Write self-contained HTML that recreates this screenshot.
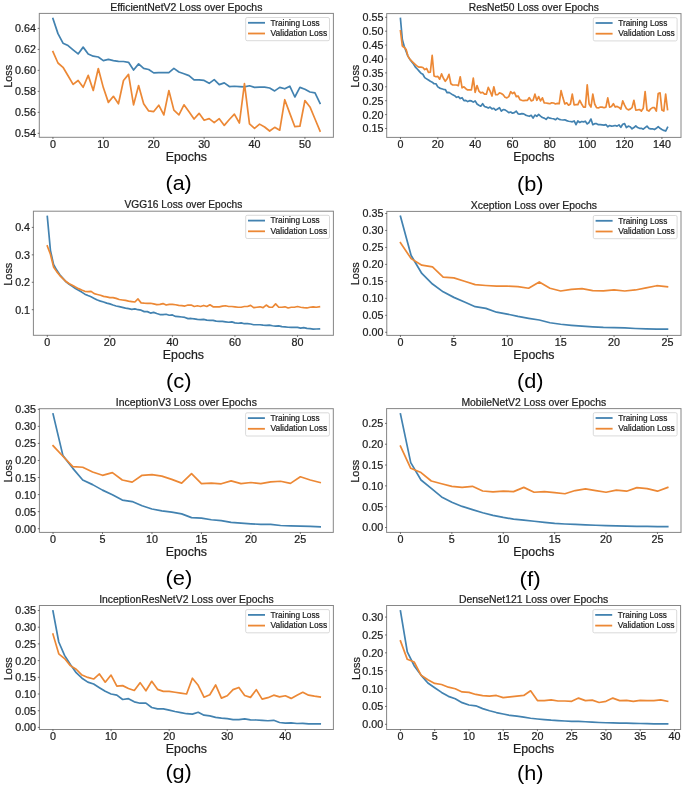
<!DOCTYPE html>
<html><head><meta charset="utf-8"><style>
html,body{margin:0;padding:0;background:#fff;}
svg{display:block;font-family:"Liberation Sans", sans-serif;will-change:transform;}
text{stroke:#1e1e1e;stroke-width:0.22px;}
</style></head><body>
<svg width="685" height="788" viewBox="0 0 685 788">
<rect width="685" height="788" fill="#fff"/>
<polyline points="52.93,18.56 57.97,33.63 63.01,43.16 68.05,45.54 73.09,49.83 78.13,53.95 83.17,47.13 88.21,53.95 93.25,56.17 98.29,56.97 103.33,60.62 108.37,59.35 113.41,60.62 118.45,61.41 123.49,61.50 128.53,62.30 133.57,70.01 138.61,63.91 143.65,68.40 148.69,69.53 153.73,72.90 158.77,72.58 163.81,72.58 168.85,72.58 173.89,68.40 178.93,71.94 183.97,73.70 189.01,75.63 194.05,79.97 199.09,79.81 204.13,80.45 209.17,83.34 214.21,79.65 219.25,84.62 224.29,82.86 229.33,86.55 234.37,86.23 239.41,86.55 244.45,86.87 249.49,85.75 254.53,87.35 259.57,87.19 264.61,87.19 269.65,88.00 274.69,90.89 279.73,87.35 284.77,88.80 289.81,86.23 294.85,96.99 299.89,87.35 304.93,89.28 309.97,92.01 315.01,92.81 320.05,103.25" fill="none" stroke="#4282b0" stroke-width="1.7" stroke-linejoin="round" stroke-linecap="square"/>
<polyline points="52.93,51.57 57.97,63.00 63.01,67.29 68.05,75.70 73.09,84.43 78.13,80.46 83.17,87.29 88.21,75.38 93.25,90.46 98.29,68.56 103.33,87.60 108.37,102.37 113.41,96.33 118.45,103.79 123.49,80.45 128.53,74.35 133.57,104.86 138.61,85.59 143.65,103.73 148.69,110.96 153.73,111.60 158.77,105.18 163.81,114.98 168.85,90.57 173.89,110.16 178.93,114.81 183.97,104.86 189.01,111.76 194.05,118.99 199.09,113.37 204.13,120.27 209.17,118.67 214.21,122.68 219.25,118.67 224.29,125.41 229.33,119.47 234.37,114.17 239.41,123.00 244.45,83.66 249.49,123.81 254.53,128.30 259.57,124.13 264.61,127.02 269.65,131.03 274.69,127.34 279.73,130.23 284.77,99.72 289.81,113.37 294.85,126.70 299.89,126.22 304.93,100.52 309.97,106.95 315.01,118.99 320.05,131.03" fill="none" stroke="#ec8835" stroke-width="1.7" stroke-linejoin="round" stroke-linecap="square"/>
<rect x="39.30" y="13.40" width="294.10" height="123.90" fill="none" stroke="#868686" stroke-width="1"/>
<line x1="52.93" y1="137.30" x2="52.93" y2="138.90" stroke="#333" stroke-width="0.7"/>
<text x="52.93" y="147.55" font-size="10.0" text-anchor="middle" fill="#1e1e1e" textLength="5.98" lengthAdjust="spacingAndGlyphs">0</text>
<line x1="103.33" y1="137.30" x2="103.33" y2="138.90" stroke="#333" stroke-width="0.7"/>
<text x="103.33" y="147.55" font-size="10.0" text-anchor="middle" fill="#1e1e1e" textLength="11.96" lengthAdjust="spacingAndGlyphs">10</text>
<line x1="153.73" y1="137.30" x2="153.73" y2="138.90" stroke="#333" stroke-width="0.7"/>
<text x="153.73" y="147.55" font-size="10.0" text-anchor="middle" fill="#1e1e1e" textLength="11.96" lengthAdjust="spacingAndGlyphs">20</text>
<line x1="204.13" y1="137.30" x2="204.13" y2="138.90" stroke="#333" stroke-width="0.7"/>
<text x="204.13" y="147.55" font-size="10.0" text-anchor="middle" fill="#1e1e1e" textLength="11.96" lengthAdjust="spacingAndGlyphs">30</text>
<line x1="254.53" y1="137.30" x2="254.53" y2="138.90" stroke="#333" stroke-width="0.7"/>
<text x="254.53" y="147.55" font-size="10.0" text-anchor="middle" fill="#1e1e1e" textLength="11.96" lengthAdjust="spacingAndGlyphs">40</text>
<line x1="304.93" y1="137.30" x2="304.93" y2="138.90" stroke="#333" stroke-width="0.7"/>
<text x="304.93" y="147.55" font-size="10.0" text-anchor="middle" fill="#1e1e1e" textLength="11.96" lengthAdjust="spacingAndGlyphs">50</text>
<line x1="37.70" y1="133.30" x2="39.30" y2="133.30" stroke="#333" stroke-width="0.7"/>
<text x="36.00" y="137.28" font-size="10.0" text-anchor="end" fill="#1e1e1e" textLength="20.93" lengthAdjust="spacingAndGlyphs">0.54</text>
<line x1="37.70" y1="112.32" x2="39.30" y2="112.32" stroke="#333" stroke-width="0.7"/>
<text x="36.00" y="116.30" font-size="10.0" text-anchor="end" fill="#1e1e1e" textLength="20.93" lengthAdjust="spacingAndGlyphs">0.56</text>
<line x1="37.70" y1="91.34" x2="39.30" y2="91.34" stroke="#333" stroke-width="0.7"/>
<text x="36.00" y="95.32" font-size="10.0" text-anchor="end" fill="#1e1e1e" textLength="20.93" lengthAdjust="spacingAndGlyphs">0.58</text>
<line x1="37.70" y1="70.36" x2="39.30" y2="70.36" stroke="#333" stroke-width="0.7"/>
<text x="36.00" y="74.34" font-size="10.0" text-anchor="end" fill="#1e1e1e" textLength="20.93" lengthAdjust="spacingAndGlyphs">0.60</text>
<line x1="37.70" y1="49.38" x2="39.30" y2="49.38" stroke="#333" stroke-width="0.7"/>
<text x="36.00" y="53.36" font-size="10.0" text-anchor="end" fill="#1e1e1e" textLength="20.93" lengthAdjust="spacingAndGlyphs">0.62</text>
<line x1="37.70" y1="28.40" x2="39.30" y2="28.40" stroke="#333" stroke-width="0.7"/>
<text x="36.00" y="32.38" font-size="10.0" text-anchor="end" fill="#1e1e1e" textLength="20.93" lengthAdjust="spacingAndGlyphs">0.64</text>
<text x="186.35" y="10.50" font-size="10.0" text-anchor="middle" fill="#1e1e1e" textLength="152.17" lengthAdjust="spacingAndGlyphs">EfficientNetV2 Loss over Epochs</text>
<text x="186.35" y="160.80" font-size="12.2" text-anchor="middle" fill="#1e1e1e" textLength="41.20" lengthAdjust="spacingAndGlyphs">Epochs</text>
<text x="0" y="0" fill="#1e1e1e" font-size="11.0" text-anchor="middle" transform="translate(11.70,76.30) rotate(-90)" textLength="23.03" lengthAdjust="spacingAndGlyphs">Loss</text>
<rect x="245.70" y="17.50" width="83.80" height="23.20" rx="1.5" fill="#fff" fill-opacity="0.8" stroke="#d0d0d0" stroke-width="0.8"/>
<line x1="248.00" y1="22.80" x2="265.00" y2="22.80" stroke="#4282b0" stroke-width="1.8"/>
<text x="270.60" y="25.60" font-size="8.4" text-anchor="start" fill="#1e1e1e" textLength="49.07" lengthAdjust="spacingAndGlyphs">Training Loss</text>
<line x1="248.00" y1="33.50" x2="265.00" y2="33.50" stroke="#ec8835" stroke-width="1.8"/>
<text x="270.60" y="36.10" font-size="8.4" text-anchor="start" fill="#1e1e1e" textLength="56.61" lengthAdjust="spacingAndGlyphs">Validation Loss</text>
<text x="178.60" y="190.00" font-size="20.5" text-anchor="middle" fill="#000" textLength="26.15" lengthAdjust="spacingAndGlyphs" stroke="none" style="stroke:none">(a)</text>
<polyline points="400.45,18.54 402.32,39.46 404.19,46.23 406.05,51.15 407.92,56.08 409.79,59.15 411.66,61.62 413.52,64.08 415.39,67.15 417.26,69.00 419.13,71.09 420.99,73.31 422.86,74.29 424.73,77.62 426.60,78.85 428.47,80.08 430.33,81.31 432.20,82.17 434.07,83.77 435.94,83.77 437.80,86.85 439.67,88.08 441.54,88.69 443.41,89.31 445.27,89.55 447.14,92.75 449.01,92.38 450.88,93.62 452.75,94.85 454.61,95.71 456.48,97.31 458.35,96.69 460.22,98.54 462.08,97.68 463.95,100.63 465.82,100.38 467.69,101.62 469.55,100.63 471.42,100.92 473.29,102.15 475.16,100.92 477.03,104.00 478.89,105.23 480.76,106.22 482.63,103.75 484.50,106.46 486.36,107.08 488.23,108.06 490.10,107.08 491.97,108.92 493.83,108.31 495.70,110.15 497.57,108.92 499.44,107.69 501.31,111.14 503.17,109.54 505.04,109.91 506.91,111.14 508.78,112.62 510.64,112.00 512.51,113.23 514.38,112.62 516.25,111.14 518.12,113.85 519.98,114.09 521.85,113.60 523.72,113.85 525.59,115.08 527.45,115.69 529.32,116.31 531.19,115.32 533.06,118.15 534.92,115.08 536.79,116.31 538.66,114.46 540.53,116.06 542.40,117.54 544.26,118.15 546.13,119.38 548.00,117.29 549.87,118.15 551.73,118.52 553.60,118.77 555.47,119.75 557.34,118.15 559.20,119.38 561.07,119.75 562.94,120.00 564.81,119.75 566.68,120.62 568.54,121.23 570.41,121.48 572.28,121.85 574.15,120.98 576.01,124.68 577.88,120.98 579.75,122.46 581.62,121.48 583.48,121.85 585.35,121.23 587.22,123.94 589.09,122.46 590.96,119.02 592.82,124.68 594.69,123.69 596.56,123.69 598.43,124.68 600.29,124.68 602.16,124.92 604.03,125.17 605.90,124.68 607.76,126.77 609.63,125.54 611.50,126.15 613.37,125.91 615.24,125.49 617.10,126.10 618.97,124.87 620.84,127.33 622.71,124.26 624.57,123.64 626.44,127.58 628.31,126.10 630.18,126.72 632.04,128.81 633.91,127.58 635.78,125.85 637.65,127.58 639.52,128.31 641.38,128.31 643.25,129.18 645.12,127.58 646.99,126.10 648.85,128.31 650.72,128.81 652.59,128.81 654.46,129.54 656.32,128.31 658.19,126.72 660.06,128.31 661.93,129.54 663.80,130.41 665.66,131.02 667.53,127.33" fill="none" stroke="#4282b0" stroke-width="1.7" stroke-linejoin="round" stroke-linecap="square"/>
<polyline points="400.45,30.85 402.32,45.98 404.19,47.46 406.05,49.31 407.92,56.08 409.79,59.15 411.66,61.00 413.52,62.85 415.39,64.69 417.26,66.17 419.13,67.15 420.99,67.15 422.86,67.52 424.73,69.62 426.60,68.38 428.47,72.32 430.33,72.08 432.20,55.46 434.07,76.02 435.94,76.75 437.80,76.38 439.67,79.22 441.54,73.92 443.41,78.23 445.27,81.31 447.14,78.85 449.01,74.29 450.88,83.77 452.75,85.00 454.61,85.00 456.48,85.00 458.35,85.62 460.22,76.75 462.08,87.83 463.95,86.85 465.82,88.69 467.69,89.92 469.55,89.92 471.42,89.85 473.29,78.15 475.16,92.31 477.03,85.54 478.89,91.08 480.76,92.92 482.63,92.31 484.50,94.15 486.36,94.15 488.23,87.38 490.10,91.08 491.97,96.00 493.83,86.77 495.70,94.77 497.57,94.77 499.44,92.92 501.31,93.54 503.17,94.77 505.04,97.23 506.91,97.85 508.78,96.62 510.64,91.69 512.51,93.54 514.38,92.31 516.25,96.62 518.12,96.00 519.98,99.69 521.85,100.31 523.72,100.55 525.59,100.31 527.45,100.31 529.32,97.60 531.19,100.92 533.06,100.31 534.92,94.15 536.79,100.31 538.66,96.62 540.53,100.92 542.40,97.85 544.26,103.02 546.13,103.02 548.00,103.38 549.87,103.75 551.73,102.77 553.60,103.02 555.47,104.00 557.34,103.38 559.20,103.75 561.07,90.71 562.94,97.85 564.81,104.00 566.68,102.77 568.54,105.23 570.41,104.00 572.28,94.15 574.15,104.98 576.01,104.62 577.88,104.62 579.75,100.31 581.62,104.00 583.48,107.08 585.35,107.08 587.22,84.92 589.09,104.00 590.96,107.08 592.82,94.15 594.69,104.00 596.56,107.69 598.43,107.94 600.29,107.08 602.16,107.08 604.03,107.69 605.90,107.08 607.76,97.85 609.63,107.08 611.50,106.46 613.37,103.75 615.24,107.04 617.10,106.42 618.97,107.40 620.84,109.13 622.71,100.89 624.57,105.19 626.44,108.63 628.31,109.86 630.18,109.13 632.04,107.65 633.91,100.27 635.78,110.11 637.65,109.86 639.52,109.50 641.38,111.09 643.25,108.27 645.12,91.66 646.99,110.11 648.85,111.09 650.72,108.88 652.59,107.65 654.46,107.65 656.32,111.09 658.19,93.51 660.06,92.89 661.93,110.11 663.80,111.09 665.66,94.12 667.53,109.50" fill="none" stroke="#ec8835" stroke-width="1.7" stroke-linejoin="round" stroke-linecap="square"/>
<rect x="386.70" y="13.60" width="294.30" height="123.80" fill="none" stroke="#868686" stroke-width="1"/>
<line x1="400.45" y1="137.40" x2="400.45" y2="139.00" stroke="#333" stroke-width="0.7"/>
<text x="400.45" y="147.65" font-size="10.0" text-anchor="middle" fill="#1e1e1e" textLength="5.98" lengthAdjust="spacingAndGlyphs">0</text>
<line x1="437.80" y1="137.40" x2="437.80" y2="139.00" stroke="#333" stroke-width="0.7"/>
<text x="437.80" y="147.65" font-size="10.0" text-anchor="middle" fill="#1e1e1e" textLength="11.96" lengthAdjust="spacingAndGlyphs">20</text>
<line x1="475.16" y1="137.40" x2="475.16" y2="139.00" stroke="#333" stroke-width="0.7"/>
<text x="475.16" y="147.65" font-size="10.0" text-anchor="middle" fill="#1e1e1e" textLength="11.96" lengthAdjust="spacingAndGlyphs">40</text>
<line x1="512.51" y1="137.40" x2="512.51" y2="139.00" stroke="#333" stroke-width="0.7"/>
<text x="512.51" y="147.65" font-size="10.0" text-anchor="middle" fill="#1e1e1e" textLength="11.96" lengthAdjust="spacingAndGlyphs">60</text>
<line x1="549.87" y1="137.40" x2="549.87" y2="139.00" stroke="#333" stroke-width="0.7"/>
<text x="549.87" y="147.65" font-size="10.0" text-anchor="middle" fill="#1e1e1e" textLength="11.96" lengthAdjust="spacingAndGlyphs">80</text>
<line x1="587.22" y1="137.40" x2="587.22" y2="139.00" stroke="#333" stroke-width="0.7"/>
<text x="587.22" y="147.65" font-size="10.0" text-anchor="middle" fill="#1e1e1e" textLength="17.94" lengthAdjust="spacingAndGlyphs">100</text>
<line x1="624.57" y1="137.40" x2="624.57" y2="139.00" stroke="#333" stroke-width="0.7"/>
<text x="624.57" y="147.65" font-size="10.0" text-anchor="middle" fill="#1e1e1e" textLength="17.94" lengthAdjust="spacingAndGlyphs">120</text>
<line x1="661.93" y1="137.40" x2="661.93" y2="139.00" stroke="#333" stroke-width="0.7"/>
<text x="661.93" y="147.65" font-size="10.0" text-anchor="middle" fill="#1e1e1e" textLength="17.94" lengthAdjust="spacingAndGlyphs">140</text>
<line x1="385.10" y1="128.50" x2="386.70" y2="128.50" stroke="#333" stroke-width="0.7"/>
<text x="383.40" y="132.48" font-size="10.0" text-anchor="end" fill="#1e1e1e" textLength="20.93" lengthAdjust="spacingAndGlyphs">0.15</text>
<line x1="385.10" y1="114.60" x2="386.70" y2="114.60" stroke="#333" stroke-width="0.7"/>
<text x="383.40" y="118.58" font-size="10.0" text-anchor="end" fill="#1e1e1e" textLength="20.93" lengthAdjust="spacingAndGlyphs">0.20</text>
<line x1="385.10" y1="100.70" x2="386.70" y2="100.70" stroke="#333" stroke-width="0.7"/>
<text x="383.40" y="104.68" font-size="10.0" text-anchor="end" fill="#1e1e1e" textLength="20.93" lengthAdjust="spacingAndGlyphs">0.25</text>
<line x1="385.10" y1="86.80" x2="386.70" y2="86.80" stroke="#333" stroke-width="0.7"/>
<text x="383.40" y="90.78" font-size="10.0" text-anchor="end" fill="#1e1e1e" textLength="20.93" lengthAdjust="spacingAndGlyphs">0.30</text>
<line x1="385.10" y1="72.90" x2="386.70" y2="72.90" stroke="#333" stroke-width="0.7"/>
<text x="383.40" y="76.88" font-size="10.0" text-anchor="end" fill="#1e1e1e" textLength="20.93" lengthAdjust="spacingAndGlyphs">0.35</text>
<line x1="385.10" y1="59.00" x2="386.70" y2="59.00" stroke="#333" stroke-width="0.7"/>
<text x="383.40" y="62.98" font-size="10.0" text-anchor="end" fill="#1e1e1e" textLength="20.93" lengthAdjust="spacingAndGlyphs">0.40</text>
<line x1="385.10" y1="45.10" x2="386.70" y2="45.10" stroke="#333" stroke-width="0.7"/>
<text x="383.40" y="49.08" font-size="10.0" text-anchor="end" fill="#1e1e1e" textLength="20.93" lengthAdjust="spacingAndGlyphs">0.45</text>
<line x1="385.10" y1="31.20" x2="386.70" y2="31.20" stroke="#333" stroke-width="0.7"/>
<text x="383.40" y="35.18" font-size="10.0" text-anchor="end" fill="#1e1e1e" textLength="20.93" lengthAdjust="spacingAndGlyphs">0.50</text>
<line x1="385.10" y1="17.30" x2="386.70" y2="17.30" stroke="#333" stroke-width="0.7"/>
<text x="383.40" y="21.28" font-size="10.0" text-anchor="end" fill="#1e1e1e" textLength="20.93" lengthAdjust="spacingAndGlyphs">0.55</text>
<text x="533.85" y="10.70" font-size="10.0" text-anchor="middle" fill="#1e1e1e" textLength="130.16" lengthAdjust="spacingAndGlyphs">ResNet50 Loss over Epochs</text>
<text x="533.85" y="160.90" font-size="12.2" text-anchor="middle" fill="#1e1e1e" textLength="41.20" lengthAdjust="spacingAndGlyphs">Epochs</text>
<text x="0" y="0" fill="#1e1e1e" font-size="11.0" text-anchor="middle" transform="translate(359.10,76.20) rotate(-90)" textLength="23.03" lengthAdjust="spacingAndGlyphs">Loss</text>
<rect x="593.30" y="17.70" width="83.80" height="23.20" rx="1.5" fill="#fff" fill-opacity="0.8" stroke="#d0d0d0" stroke-width="0.8"/>
<line x1="595.60" y1="23.00" x2="612.60" y2="23.00" stroke="#4282b0" stroke-width="1.8"/>
<text x="618.20" y="25.80" font-size="8.4" text-anchor="start" fill="#1e1e1e" textLength="49.07" lengthAdjust="spacingAndGlyphs">Training Loss</text>
<line x1="595.60" y1="33.70" x2="612.60" y2="33.70" stroke="#ec8835" stroke-width="1.8"/>
<text x="618.20" y="36.30" font-size="8.4" text-anchor="start" fill="#1e1e1e" textLength="56.61" lengthAdjust="spacingAndGlyphs">Validation Loss</text>
<text x="530.20" y="191.00" font-size="20.5" text-anchor="middle" fill="#000" textLength="26.55" lengthAdjust="spacingAndGlyphs" stroke="none" style="stroke:none">(b)</text>
<polyline points="47.30,216.51 50.43,250.37 53.55,264.54 56.68,270.06 59.81,274.78 62.94,278.40 66.06,281.87 69.19,284.23 72.32,286.28 75.45,288.48 78.57,290.21 81.70,292.10 84.83,294.15 87.96,295.57 91.08,296.83 94.21,298.40 97.34,299.98 100.47,301.08 103.59,302.02 106.72,303.13 109.85,303.91 112.98,305.02 116.10,305.96 119.23,306.59 122.36,307.38 125.49,308.17 128.62,308.64 131.74,309.43 134.87,308.95 138.00,309.71 141.12,310.15 144.25,311.61 147.38,311.61 150.51,313.07 153.63,312.34 156.76,313.50 159.89,314.53 163.02,314.53 166.14,314.23 169.27,315.26 172.40,314.96 175.53,316.42 178.65,316.72 181.78,317.01 184.91,317.45 188.04,318.61 191.17,318.47 194.29,318.91 197.42,319.34 200.55,319.64 203.68,319.34 206.80,320.07 209.93,320.36 213.06,320.36 216.19,321.09 219.31,321.39 222.44,321.39 225.57,321.82 228.69,322.26 231.82,321.82 234.95,322.85 238.08,323.28 241.20,322.85 244.33,323.72 247.46,323.72 250.59,324.01 253.71,324.74 256.84,324.74 259.97,324.74 263.10,325.18 266.22,325.47 269.35,325.18 272.48,325.77 275.61,326.20 278.74,325.91 281.86,326.64 284.99,326.93 288.12,327.23 291.25,327.37 294.37,327.37 297.50,327.37 300.63,328.10 303.75,327.66 306.88,328.39 310.01,328.69 313.14,329.12 316.26,328.98 319.39,328.83" fill="none" stroke="#4282b0" stroke-width="1.7" stroke-linejoin="round" stroke-linecap="square"/>
<polyline points="47.30,245.96 50.43,254.31 53.55,266.91 56.68,271.63 59.81,275.57 62.94,278.72 66.06,281.55 69.19,283.76 72.32,285.33 75.45,287.06 78.57,288.64 81.70,290.06 84.83,291.31 87.96,291.63 91.08,291.31 94.21,293.68 97.34,294.46 100.47,295.25 103.59,296.35 106.72,296.83 109.85,297.61 112.98,297.61 116.10,298.40 119.23,299.50 122.36,299.98 125.49,300.45 128.62,301.08 131.74,301.55 134.87,302.02 138.00,298.91 141.12,302.85 144.25,303.14 147.38,303.28 150.51,303.28 153.63,303.87 156.76,304.60 159.89,304.31 163.02,303.58 166.14,305.04 169.27,304.31 172.40,304.31 175.53,304.74 178.65,305.33 181.78,305.62 184.91,306.06 188.04,305.04 191.17,305.04 194.29,306.50 197.42,305.77 200.55,306.50 203.68,305.47 206.80,306.50 209.93,304.74 213.06,306.79 216.19,306.79 219.31,306.79 222.44,306.20 225.57,305.77 228.69,306.50 231.82,306.50 234.95,306.79 238.08,307.23 241.20,307.23 244.33,306.50 247.46,306.50 250.59,305.33 253.71,307.66 256.84,307.23 259.97,306.79 263.10,307.66 266.22,305.04 269.35,307.23 272.48,307.23 275.61,303.87 278.74,307.23 281.86,307.23 284.99,306.79 288.12,307.96 291.25,307.23 294.37,307.23 297.50,306.50 300.63,307.23 303.75,307.66 306.88,307.96 310.01,307.23 313.14,306.79 316.26,307.23 319.39,306.79" fill="none" stroke="#ec8835" stroke-width="1.7" stroke-linejoin="round" stroke-linecap="square"/>
<rect x="33.40" y="211.20" width="300.00" height="124.10" fill="none" stroke="#868686" stroke-width="1"/>
<line x1="47.30" y1="335.30" x2="47.30" y2="336.90" stroke="#333" stroke-width="0.7"/>
<text x="47.30" y="345.55" font-size="10.0" text-anchor="middle" fill="#1e1e1e" textLength="5.98" lengthAdjust="spacingAndGlyphs">0</text>
<line x1="109.85" y1="335.30" x2="109.85" y2="336.90" stroke="#333" stroke-width="0.7"/>
<text x="109.85" y="345.55" font-size="10.0" text-anchor="middle" fill="#1e1e1e" textLength="11.96" lengthAdjust="spacingAndGlyphs">20</text>
<line x1="172.40" y1="335.30" x2="172.40" y2="336.90" stroke="#333" stroke-width="0.7"/>
<text x="172.40" y="345.55" font-size="10.0" text-anchor="middle" fill="#1e1e1e" textLength="11.96" lengthAdjust="spacingAndGlyphs">40</text>
<line x1="234.95" y1="335.30" x2="234.95" y2="336.90" stroke="#333" stroke-width="0.7"/>
<text x="234.95" y="345.55" font-size="10.0" text-anchor="middle" fill="#1e1e1e" textLength="11.96" lengthAdjust="spacingAndGlyphs">60</text>
<line x1="297.50" y1="335.30" x2="297.50" y2="336.90" stroke="#333" stroke-width="0.7"/>
<text x="297.50" y="345.55" font-size="10.0" text-anchor="middle" fill="#1e1e1e" textLength="11.96" lengthAdjust="spacingAndGlyphs">80</text>
<line x1="31.80" y1="309.70" x2="33.40" y2="309.70" stroke="#333" stroke-width="0.7"/>
<text x="30.10" y="313.68" font-size="10.0" text-anchor="end" fill="#1e1e1e" textLength="14.95" lengthAdjust="spacingAndGlyphs">0.1</text>
<line x1="31.80" y1="282.27" x2="33.40" y2="282.27" stroke="#333" stroke-width="0.7"/>
<text x="30.10" y="286.25" font-size="10.0" text-anchor="end" fill="#1e1e1e" textLength="14.95" lengthAdjust="spacingAndGlyphs">0.2</text>
<line x1="31.80" y1="254.83" x2="33.40" y2="254.83" stroke="#333" stroke-width="0.7"/>
<text x="30.10" y="258.81" font-size="10.0" text-anchor="end" fill="#1e1e1e" textLength="14.95" lengthAdjust="spacingAndGlyphs">0.3</text>
<line x1="31.80" y1="227.40" x2="33.40" y2="227.40" stroke="#333" stroke-width="0.7"/>
<text x="30.10" y="231.38" font-size="10.0" text-anchor="end" fill="#1e1e1e" textLength="14.95" lengthAdjust="spacingAndGlyphs">0.4</text>
<text x="183.40" y="208.30" font-size="10.0" text-anchor="middle" fill="#1e1e1e" textLength="117.81" lengthAdjust="spacingAndGlyphs">VGG16 Loss over Epochs</text>
<text x="183.40" y="358.80" font-size="12.2" text-anchor="middle" fill="#1e1e1e" textLength="41.20" lengthAdjust="spacingAndGlyphs">Epochs</text>
<text x="0" y="0" fill="#1e1e1e" font-size="11.0" text-anchor="middle" transform="translate(11.80,274.20) rotate(-90)" textLength="23.03" lengthAdjust="spacingAndGlyphs">Loss</text>
<rect x="245.70" y="215.30" width="83.80" height="23.20" rx="1.5" fill="#fff" fill-opacity="0.8" stroke="#d0d0d0" stroke-width="0.8"/>
<line x1="248.00" y1="220.60" x2="265.00" y2="220.60" stroke="#4282b0" stroke-width="1.8"/>
<text x="270.60" y="223.40" font-size="8.4" text-anchor="start" fill="#1e1e1e" textLength="49.07" lengthAdjust="spacingAndGlyphs">Training Loss</text>
<line x1="248.00" y1="231.30" x2="265.00" y2="231.30" stroke="#ec8835" stroke-width="1.8"/>
<text x="270.60" y="233.90" font-size="8.4" text-anchor="start" fill="#1e1e1e" textLength="56.61" lengthAdjust="spacingAndGlyphs">Validation Loss</text>
<text x="178.80" y="387.50" font-size="20.5" text-anchor="middle" fill="#000" textLength="25.54" lengthAdjust="spacingAndGlyphs" stroke="none" style="stroke:none">(c)</text>
<polyline points="400.45,216.29 411.13,255.45 421.81,273.45 432.49,284.03 443.17,291.86 453.85,297.37 464.53,302.02 475.21,306.68 485.89,308.38 496.57,312.19 507.25,314.09 517.93,316.42 528.61,318.32 539.29,320.02 549.97,322.77 560.65,324.25 571.33,325.31 582.01,326.16 592.69,326.79 603.37,327.43 614.05,327.64 624.73,327.85 635.41,328.49 646.09,328.91 656.77,329.12 667.45,329.12" fill="none" stroke="#4282b0" stroke-width="1.7" stroke-linejoin="round" stroke-linecap="square"/>
<polyline points="400.45,242.75 411.13,258.63 421.81,265.19 432.49,266.88 443.17,277.05 453.85,277.89 464.53,281.28 475.21,284.67 485.89,285.51 496.57,286.15 507.25,286.15 517.93,286.57 528.61,288.27 539.29,281.91 549.97,288.27 560.65,291.02 571.33,289.32 582.01,288.69 592.69,290.59 603.37,290.81 614.05,289.96 624.73,291.02 635.41,289.96 646.09,287.84 656.77,285.72 667.45,286.78" fill="none" stroke="#ec8835" stroke-width="1.7" stroke-linejoin="round" stroke-linecap="square"/>
<rect x="386.80" y="211.40" width="294.20" height="124.00" fill="none" stroke="#868686" stroke-width="1"/>
<line x1="400.45" y1="335.40" x2="400.45" y2="337.00" stroke="#333" stroke-width="0.7"/>
<text x="400.45" y="345.65" font-size="10.0" text-anchor="middle" fill="#1e1e1e" textLength="5.98" lengthAdjust="spacingAndGlyphs">0</text>
<line x1="453.85" y1="335.40" x2="453.85" y2="337.00" stroke="#333" stroke-width="0.7"/>
<text x="453.85" y="345.65" font-size="10.0" text-anchor="middle" fill="#1e1e1e" textLength="5.98" lengthAdjust="spacingAndGlyphs">5</text>
<line x1="507.25" y1="335.40" x2="507.25" y2="337.00" stroke="#333" stroke-width="0.7"/>
<text x="507.25" y="345.65" font-size="10.0" text-anchor="middle" fill="#1e1e1e" textLength="11.96" lengthAdjust="spacingAndGlyphs">10</text>
<line x1="560.65" y1="335.40" x2="560.65" y2="337.00" stroke="#333" stroke-width="0.7"/>
<text x="560.65" y="345.65" font-size="10.0" text-anchor="middle" fill="#1e1e1e" textLength="11.96" lengthAdjust="spacingAndGlyphs">15</text>
<line x1="614.05" y1="335.40" x2="614.05" y2="337.00" stroke="#333" stroke-width="0.7"/>
<text x="614.05" y="345.65" font-size="10.0" text-anchor="middle" fill="#1e1e1e" textLength="11.96" lengthAdjust="spacingAndGlyphs">20</text>
<line x1="667.45" y1="335.40" x2="667.45" y2="337.00" stroke="#333" stroke-width="0.7"/>
<text x="667.45" y="345.65" font-size="10.0" text-anchor="middle" fill="#1e1e1e" textLength="11.96" lengthAdjust="spacingAndGlyphs">25</text>
<line x1="385.20" y1="332.30" x2="386.80" y2="332.30" stroke="#333" stroke-width="0.7"/>
<text x="383.50" y="336.28" font-size="10.0" text-anchor="end" fill="#1e1e1e" textLength="20.93" lengthAdjust="spacingAndGlyphs">0.00</text>
<line x1="385.20" y1="315.33" x2="386.80" y2="315.33" stroke="#333" stroke-width="0.7"/>
<text x="383.50" y="319.31" font-size="10.0" text-anchor="end" fill="#1e1e1e" textLength="20.93" lengthAdjust="spacingAndGlyphs">0.05</text>
<line x1="385.20" y1="298.36" x2="386.80" y2="298.36" stroke="#333" stroke-width="0.7"/>
<text x="383.50" y="302.34" font-size="10.0" text-anchor="end" fill="#1e1e1e" textLength="20.93" lengthAdjust="spacingAndGlyphs">0.10</text>
<line x1="385.20" y1="281.39" x2="386.80" y2="281.39" stroke="#333" stroke-width="0.7"/>
<text x="383.50" y="285.37" font-size="10.0" text-anchor="end" fill="#1e1e1e" textLength="20.93" lengthAdjust="spacingAndGlyphs">0.15</text>
<line x1="385.20" y1="264.41" x2="386.80" y2="264.41" stroke="#333" stroke-width="0.7"/>
<text x="383.50" y="268.39" font-size="10.0" text-anchor="end" fill="#1e1e1e" textLength="20.93" lengthAdjust="spacingAndGlyphs">0.20</text>
<line x1="385.20" y1="247.44" x2="386.80" y2="247.44" stroke="#333" stroke-width="0.7"/>
<text x="383.50" y="251.42" font-size="10.0" text-anchor="end" fill="#1e1e1e" textLength="20.93" lengthAdjust="spacingAndGlyphs">0.25</text>
<line x1="385.20" y1="230.47" x2="386.80" y2="230.47" stroke="#333" stroke-width="0.7"/>
<text x="383.50" y="234.45" font-size="10.0" text-anchor="end" fill="#1e1e1e" textLength="20.93" lengthAdjust="spacingAndGlyphs">0.30</text>
<line x1="385.20" y1="213.50" x2="386.80" y2="213.50" stroke="#333" stroke-width="0.7"/>
<text x="383.50" y="217.48" font-size="10.0" text-anchor="end" fill="#1e1e1e" textLength="20.93" lengthAdjust="spacingAndGlyphs">0.35</text>
<text x="533.90" y="208.50" font-size="10.0" text-anchor="middle" fill="#1e1e1e" textLength="126.26" lengthAdjust="spacingAndGlyphs">Xception Loss over Epochs</text>
<text x="533.90" y="358.90" font-size="12.2" text-anchor="middle" fill="#1e1e1e" textLength="41.20" lengthAdjust="spacingAndGlyphs">Epochs</text>
<text x="0" y="0" fill="#1e1e1e" font-size="11.0" text-anchor="middle" transform="translate(359.30,273.70) rotate(-90)" textLength="23.03" lengthAdjust="spacingAndGlyphs">Loss</text>
<rect x="593.30" y="215.50" width="83.80" height="23.20" rx="1.5" fill="#fff" fill-opacity="0.8" stroke="#d0d0d0" stroke-width="0.8"/>
<line x1="595.60" y1="220.80" x2="612.60" y2="220.80" stroke="#4282b0" stroke-width="1.8"/>
<text x="618.20" y="223.60" font-size="8.4" text-anchor="start" fill="#1e1e1e" textLength="49.07" lengthAdjust="spacingAndGlyphs">Training Loss</text>
<line x1="595.60" y1="231.50" x2="612.60" y2="231.50" stroke="#ec8835" stroke-width="1.8"/>
<text x="618.20" y="234.10" font-size="8.4" text-anchor="start" fill="#1e1e1e" textLength="56.61" lengthAdjust="spacingAndGlyphs">Validation Loss</text>
<text x="530.20" y="388.40" font-size="20.5" text-anchor="middle" fill="#000" textLength="26.55" lengthAdjust="spacingAndGlyphs" stroke="none" style="stroke:none">(d)</text>
<polyline points="53.04,413.93 62.93,455.63 72.83,468.33 82.72,479.97 92.61,484.63 102.50,490.13 112.40,494.79 122.29,500.08 132.18,501.56 142.08,505.80 151.97,508.97 161.86,510.88 171.76,512.15 181.65,513.84 191.54,517.65 201.44,518.08 211.33,519.77 221.22,520.62 231.11,522.31 241.01,523.16 250.90,523.79 260.79,524.43 270.69,524.43 280.58,525.49 290.47,525.91 300.37,526.12 310.26,526.33 320.15,526.76" fill="none" stroke="#4282b0" stroke-width="1.7" stroke-linejoin="round" stroke-linecap="square"/>
<polyline points="53.04,445.68 62.93,456.26 72.83,466.64 82.72,467.27 92.61,471.93 102.50,475.32 112.40,472.56 122.29,479.97 132.18,482.09 142.08,475.32 151.97,474.68 161.86,476.16 171.76,479.34 181.65,483.15 191.54,473.62 201.44,483.57 211.33,483.15 221.22,483.78 231.11,480.82 241.01,483.57 250.90,482.51 260.79,483.57 270.69,481.88 280.58,481.24 290.47,483.36 300.37,476.80 310.26,479.97 320.15,482.51" fill="none" stroke="#ec8835" stroke-width="1.7" stroke-linejoin="round" stroke-linecap="square"/>
<rect x="39.40" y="408.70" width="293.90" height="123.70" fill="none" stroke="#868686" stroke-width="1"/>
<line x1="53.04" y1="532.40" x2="53.04" y2="534.00" stroke="#333" stroke-width="0.7"/>
<text x="53.04" y="542.65" font-size="10.0" text-anchor="middle" fill="#1e1e1e" textLength="5.98" lengthAdjust="spacingAndGlyphs">0</text>
<line x1="102.50" y1="532.40" x2="102.50" y2="534.00" stroke="#333" stroke-width="0.7"/>
<text x="102.50" y="542.65" font-size="10.0" text-anchor="middle" fill="#1e1e1e" textLength="5.98" lengthAdjust="spacingAndGlyphs">5</text>
<line x1="151.97" y1="532.40" x2="151.97" y2="534.00" stroke="#333" stroke-width="0.7"/>
<text x="151.97" y="542.65" font-size="10.0" text-anchor="middle" fill="#1e1e1e" textLength="11.96" lengthAdjust="spacingAndGlyphs">10</text>
<line x1="201.44" y1="532.40" x2="201.44" y2="534.00" stroke="#333" stroke-width="0.7"/>
<text x="201.44" y="542.65" font-size="10.0" text-anchor="middle" fill="#1e1e1e" textLength="11.96" lengthAdjust="spacingAndGlyphs">15</text>
<line x1="250.90" y1="532.40" x2="250.90" y2="534.00" stroke="#333" stroke-width="0.7"/>
<text x="250.90" y="542.65" font-size="10.0" text-anchor="middle" fill="#1e1e1e" textLength="11.96" lengthAdjust="spacingAndGlyphs">20</text>
<line x1="300.37" y1="532.40" x2="300.37" y2="534.00" stroke="#333" stroke-width="0.7"/>
<text x="300.37" y="542.65" font-size="10.0" text-anchor="middle" fill="#1e1e1e" textLength="11.96" lengthAdjust="spacingAndGlyphs">25</text>
<line x1="37.80" y1="528.70" x2="39.40" y2="528.70" stroke="#333" stroke-width="0.7"/>
<text x="36.10" y="532.68" font-size="10.0" text-anchor="end" fill="#1e1e1e" textLength="20.93" lengthAdjust="spacingAndGlyphs">0.00</text>
<line x1="37.80" y1="511.64" x2="39.40" y2="511.64" stroke="#333" stroke-width="0.7"/>
<text x="36.10" y="515.62" font-size="10.0" text-anchor="end" fill="#1e1e1e" textLength="20.93" lengthAdjust="spacingAndGlyphs">0.05</text>
<line x1="37.80" y1="494.59" x2="39.40" y2="494.59" stroke="#333" stroke-width="0.7"/>
<text x="36.10" y="498.57" font-size="10.0" text-anchor="end" fill="#1e1e1e" textLength="20.93" lengthAdjust="spacingAndGlyphs">0.10</text>
<line x1="37.80" y1="477.53" x2="39.40" y2="477.53" stroke="#333" stroke-width="0.7"/>
<text x="36.10" y="481.51" font-size="10.0" text-anchor="end" fill="#1e1e1e" textLength="20.93" lengthAdjust="spacingAndGlyphs">0.15</text>
<line x1="37.80" y1="460.47" x2="39.40" y2="460.47" stroke="#333" stroke-width="0.7"/>
<text x="36.10" y="464.45" font-size="10.0" text-anchor="end" fill="#1e1e1e" textLength="20.93" lengthAdjust="spacingAndGlyphs">0.20</text>
<line x1="37.80" y1="443.41" x2="39.40" y2="443.41" stroke="#333" stroke-width="0.7"/>
<text x="36.10" y="447.39" font-size="10.0" text-anchor="end" fill="#1e1e1e" textLength="20.93" lengthAdjust="spacingAndGlyphs">0.25</text>
<line x1="37.80" y1="426.36" x2="39.40" y2="426.36" stroke="#333" stroke-width="0.7"/>
<text x="36.10" y="430.34" font-size="10.0" text-anchor="end" fill="#1e1e1e" textLength="20.93" lengthAdjust="spacingAndGlyphs">0.30</text>
<line x1="37.80" y1="409.30" x2="39.40" y2="409.30" stroke="#333" stroke-width="0.7"/>
<text x="36.10" y="413.28" font-size="10.0" text-anchor="end" fill="#1e1e1e" textLength="20.93" lengthAdjust="spacingAndGlyphs">0.35</text>
<text x="186.35" y="405.80" font-size="10.0" text-anchor="middle" fill="#1e1e1e" textLength="141.04" lengthAdjust="spacingAndGlyphs">InceptionV3 Loss over Epochs</text>
<text x="186.35" y="555.90" font-size="12.2" text-anchor="middle" fill="#1e1e1e" textLength="41.20" lengthAdjust="spacingAndGlyphs">Epochs</text>
<text x="0" y="0" fill="#1e1e1e" font-size="11.0" text-anchor="middle" transform="translate(12.00,471.10) rotate(-90)" textLength="23.03" lengthAdjust="spacingAndGlyphs">Loss</text>
<rect x="245.60" y="412.80" width="83.80" height="23.20" rx="1.5" fill="#fff" fill-opacity="0.8" stroke="#d0d0d0" stroke-width="0.8"/>
<line x1="247.90" y1="418.10" x2="264.90" y2="418.10" stroke="#4282b0" stroke-width="1.8"/>
<text x="270.50" y="420.90" font-size="8.4" text-anchor="start" fill="#1e1e1e" textLength="49.07" lengthAdjust="spacingAndGlyphs">Training Loss</text>
<line x1="247.90" y1="428.80" x2="264.90" y2="428.80" stroke="#ec8835" stroke-width="1.8"/>
<text x="270.50" y="431.40" font-size="8.4" text-anchor="start" fill="#1e1e1e" textLength="56.61" lengthAdjust="spacingAndGlyphs">Validation Loss</text>
<text x="178.80" y="585.10" font-size="20.5" text-anchor="middle" fill="#000" textLength="26.85" lengthAdjust="spacingAndGlyphs" stroke="none" style="stroke:none">(e)</text>
<polyline points="400.45,413.93 410.73,462.61 421.01,479.97 431.29,488.44 441.57,496.91 451.85,502.20 462.13,506.43 472.41,509.61 482.69,512.78 492.97,515.32 503.25,517.44 513.53,519.13 523.81,520.19 534.09,521.25 544.37,522.31 554.65,523.37 564.93,524.00 575.21,524.43 585.49,524.85 595.77,525.27 606.05,525.70 616.33,525.91 626.61,526.12 636.89,526.33 647.17,526.33 657.45,526.54 667.73,526.54" fill="none" stroke="#4282b0" stroke-width="1.7" stroke-linejoin="round" stroke-linecap="square"/>
<polyline points="400.45,446.10 410.73,468.33 421.01,472.56 431.29,481.03 441.57,483.78 451.85,486.32 462.13,487.38 472.41,486.32 482.69,490.98 492.97,491.83 503.25,491.19 513.53,491.62 523.81,487.38 534.09,492.25 544.37,491.62 554.65,492.67 564.93,493.73 575.21,490.56 585.49,488.86 595.77,490.56 606.05,492.25 616.33,490.13 626.61,491.19 636.89,487.59 647.17,488.65 657.45,491.19 667.73,487.38" fill="none" stroke="#ec8835" stroke-width="1.7" stroke-linejoin="round" stroke-linecap="square"/>
<rect x="386.60" y="408.60" width="294.40" height="123.80" fill="none" stroke="#868686" stroke-width="1"/>
<line x1="400.45" y1="532.40" x2="400.45" y2="534.00" stroke="#333" stroke-width="0.7"/>
<text x="400.45" y="542.65" font-size="10.0" text-anchor="middle" fill="#1e1e1e" textLength="5.98" lengthAdjust="spacingAndGlyphs">0</text>
<line x1="451.85" y1="532.40" x2="451.85" y2="534.00" stroke="#333" stroke-width="0.7"/>
<text x="451.85" y="542.65" font-size="10.0" text-anchor="middle" fill="#1e1e1e" textLength="5.98" lengthAdjust="spacingAndGlyphs">5</text>
<line x1="503.25" y1="532.40" x2="503.25" y2="534.00" stroke="#333" stroke-width="0.7"/>
<text x="503.25" y="542.65" font-size="10.0" text-anchor="middle" fill="#1e1e1e" textLength="11.96" lengthAdjust="spacingAndGlyphs">10</text>
<line x1="554.65" y1="532.40" x2="554.65" y2="534.00" stroke="#333" stroke-width="0.7"/>
<text x="554.65" y="542.65" font-size="10.0" text-anchor="middle" fill="#1e1e1e" textLength="11.96" lengthAdjust="spacingAndGlyphs">15</text>
<line x1="606.05" y1="532.40" x2="606.05" y2="534.00" stroke="#333" stroke-width="0.7"/>
<text x="606.05" y="542.65" font-size="10.0" text-anchor="middle" fill="#1e1e1e" textLength="11.96" lengthAdjust="spacingAndGlyphs">20</text>
<line x1="657.45" y1="532.40" x2="657.45" y2="534.00" stroke="#333" stroke-width="0.7"/>
<text x="657.45" y="542.65" font-size="10.0" text-anchor="middle" fill="#1e1e1e" textLength="11.96" lengthAdjust="spacingAndGlyphs">25</text>
<line x1="385.00" y1="527.50" x2="386.60" y2="527.50" stroke="#333" stroke-width="0.7"/>
<text x="383.30" y="531.48" font-size="10.0" text-anchor="end" fill="#1e1e1e" textLength="20.93" lengthAdjust="spacingAndGlyphs">0.00</text>
<line x1="385.00" y1="506.68" x2="386.60" y2="506.68" stroke="#333" stroke-width="0.7"/>
<text x="383.30" y="510.66" font-size="10.0" text-anchor="end" fill="#1e1e1e" textLength="20.93" lengthAdjust="spacingAndGlyphs">0.05</text>
<line x1="385.00" y1="485.86" x2="386.60" y2="485.86" stroke="#333" stroke-width="0.7"/>
<text x="383.30" y="489.84" font-size="10.0" text-anchor="end" fill="#1e1e1e" textLength="20.93" lengthAdjust="spacingAndGlyphs">0.10</text>
<line x1="385.00" y1="465.04" x2="386.60" y2="465.04" stroke="#333" stroke-width="0.7"/>
<text x="383.30" y="469.02" font-size="10.0" text-anchor="end" fill="#1e1e1e" textLength="20.93" lengthAdjust="spacingAndGlyphs">0.15</text>
<line x1="385.00" y1="444.22" x2="386.60" y2="444.22" stroke="#333" stroke-width="0.7"/>
<text x="383.30" y="448.20" font-size="10.0" text-anchor="end" fill="#1e1e1e" textLength="20.93" lengthAdjust="spacingAndGlyphs">0.20</text>
<line x1="385.00" y1="423.40" x2="386.60" y2="423.40" stroke="#333" stroke-width="0.7"/>
<text x="383.30" y="427.38" font-size="10.0" text-anchor="end" fill="#1e1e1e" textLength="20.93" lengthAdjust="spacingAndGlyphs">0.25</text>
<text x="533.80" y="405.70" font-size="10.0" text-anchor="middle" fill="#1e1e1e" textLength="144.74" lengthAdjust="spacingAndGlyphs">MobileNetV2 Loss over Epochs</text>
<text x="533.80" y="555.90" font-size="12.2" text-anchor="middle" fill="#1e1e1e" textLength="41.20" lengthAdjust="spacingAndGlyphs">Epochs</text>
<text x="0" y="0" fill="#1e1e1e" font-size="11.0" text-anchor="middle" transform="translate(359.30,471.20) rotate(-90)" textLength="23.03" lengthAdjust="spacingAndGlyphs">Loss</text>
<rect x="593.30" y="412.70" width="83.80" height="23.20" rx="1.5" fill="#fff" fill-opacity="0.8" stroke="#d0d0d0" stroke-width="0.8"/>
<line x1="595.60" y1="418.00" x2="612.60" y2="418.00" stroke="#4282b0" stroke-width="1.8"/>
<text x="618.20" y="420.80" font-size="8.4" text-anchor="start" fill="#1e1e1e" textLength="49.07" lengthAdjust="spacingAndGlyphs">Training Loss</text>
<line x1="595.60" y1="428.70" x2="612.60" y2="428.70" stroke="#ec8835" stroke-width="1.8"/>
<text x="618.20" y="431.30" font-size="8.4" text-anchor="start" fill="#1e1e1e" textLength="56.61" lengthAdjust="spacingAndGlyphs">Validation Loss</text>
<text x="530.20" y="586.00" font-size="20.5" text-anchor="middle" fill="#000" textLength="21.14" lengthAdjust="spacingAndGlyphs" stroke="none" style="stroke:none">(f)</text>
<polyline points="52.95,610.98 58.76,642.01 64.57,655.39 70.38,664.53 76.19,672.72 82.00,678.23 87.81,682.17 93.62,684.06 99.43,687.68 105.24,691.30 111.05,693.98 116.86,695.08 122.67,699.49 128.48,698.70 134.29,701.85 140.10,703.21 145.91,703.07 151.72,707.45 157.53,708.91 163.34,708.91 169.15,710.07 174.96,711.53 180.77,712.55 186.58,713.72 192.39,714.16 198.20,712.26 204.01,715.18 209.82,715.91 215.63,717.37 221.44,718.10 227.25,718.54 233.06,719.56 238.87,719.56 244.68,718.83 250.49,719.85 256.30,720.00 262.11,720.29 267.92,720.73 273.73,720.29 279.54,722.48 285.35,723.21 291.16,722.92 296.97,723.50 302.78,723.36 308.59,723.80 314.40,723.80 320.21,723.94" fill="none" stroke="#4282b0" stroke-width="1.7" stroke-linejoin="round" stroke-linecap="square"/>
<polyline points="52.95,634.13 58.76,653.82 64.57,658.54 70.38,665.63 76.19,669.25 82.00,675.08 87.81,677.44 93.62,679.02 99.43,673.98 105.24,682.17 111.05,675.08 116.86,686.10 122.67,685.63 128.48,688.46 134.29,690.51 140.10,682.63 145.91,690.80 151.72,681.31 157.53,689.34 163.34,691.39 169.15,691.39 174.96,692.26 180.77,693.14 186.58,694.01 192.39,678.25 198.20,685.26 204.01,697.23 209.82,694.74 215.63,684.96 221.44,698.10 227.25,695.77 233.06,689.64 238.87,687.45 244.68,695.47 250.49,697.37 256.30,689.64 262.11,699.12 267.92,697.66 273.73,695.18 279.54,696.93 285.35,695.77 291.16,698.39 296.97,695.18 302.78,692.26 308.59,695.18 314.40,696.20 320.21,696.93" fill="none" stroke="#ec8835" stroke-width="1.7" stroke-linejoin="round" stroke-linecap="square"/>
<rect x="39.40" y="605.50" width="294.00" height="124.00" fill="none" stroke="#868686" stroke-width="1"/>
<line x1="52.95" y1="729.50" x2="52.95" y2="731.10" stroke="#333" stroke-width="0.7"/>
<text x="52.95" y="739.75" font-size="10.0" text-anchor="middle" fill="#1e1e1e" textLength="5.98" lengthAdjust="spacingAndGlyphs">0</text>
<line x1="111.05" y1="729.50" x2="111.05" y2="731.10" stroke="#333" stroke-width="0.7"/>
<text x="111.05" y="739.75" font-size="10.0" text-anchor="middle" fill="#1e1e1e" textLength="11.96" lengthAdjust="spacingAndGlyphs">10</text>
<line x1="169.15" y1="729.50" x2="169.15" y2="731.10" stroke="#333" stroke-width="0.7"/>
<text x="169.15" y="739.75" font-size="10.0" text-anchor="middle" fill="#1e1e1e" textLength="11.96" lengthAdjust="spacingAndGlyphs">20</text>
<line x1="227.25" y1="729.50" x2="227.25" y2="731.10" stroke="#333" stroke-width="0.7"/>
<text x="227.25" y="739.75" font-size="10.0" text-anchor="middle" fill="#1e1e1e" textLength="11.96" lengthAdjust="spacingAndGlyphs">30</text>
<line x1="285.35" y1="729.50" x2="285.35" y2="731.10" stroke="#333" stroke-width="0.7"/>
<text x="285.35" y="739.75" font-size="10.0" text-anchor="middle" fill="#1e1e1e" textLength="11.96" lengthAdjust="spacingAndGlyphs">40</text>
<line x1="37.80" y1="727.40" x2="39.40" y2="727.40" stroke="#333" stroke-width="0.7"/>
<text x="36.10" y="731.38" font-size="10.0" text-anchor="end" fill="#1e1e1e" textLength="20.93" lengthAdjust="spacingAndGlyphs">0.00</text>
<line x1="37.80" y1="710.70" x2="39.40" y2="710.70" stroke="#333" stroke-width="0.7"/>
<text x="36.10" y="714.68" font-size="10.0" text-anchor="end" fill="#1e1e1e" textLength="20.93" lengthAdjust="spacingAndGlyphs">0.05</text>
<line x1="37.80" y1="694.00" x2="39.40" y2="694.00" stroke="#333" stroke-width="0.7"/>
<text x="36.10" y="697.98" font-size="10.0" text-anchor="end" fill="#1e1e1e" textLength="20.93" lengthAdjust="spacingAndGlyphs">0.10</text>
<line x1="37.80" y1="677.30" x2="39.40" y2="677.30" stroke="#333" stroke-width="0.7"/>
<text x="36.10" y="681.28" font-size="10.0" text-anchor="end" fill="#1e1e1e" textLength="20.93" lengthAdjust="spacingAndGlyphs">0.15</text>
<line x1="37.80" y1="660.60" x2="39.40" y2="660.60" stroke="#333" stroke-width="0.7"/>
<text x="36.10" y="664.58" font-size="10.0" text-anchor="end" fill="#1e1e1e" textLength="20.93" lengthAdjust="spacingAndGlyphs">0.20</text>
<line x1="37.80" y1="643.90" x2="39.40" y2="643.90" stroke="#333" stroke-width="0.7"/>
<text x="36.10" y="647.88" font-size="10.0" text-anchor="end" fill="#1e1e1e" textLength="20.93" lengthAdjust="spacingAndGlyphs">0.25</text>
<line x1="37.80" y1="627.20" x2="39.40" y2="627.20" stroke="#333" stroke-width="0.7"/>
<text x="36.10" y="631.18" font-size="10.0" text-anchor="end" fill="#1e1e1e" textLength="20.93" lengthAdjust="spacingAndGlyphs">0.30</text>
<line x1="37.80" y1="610.50" x2="39.40" y2="610.50" stroke="#333" stroke-width="0.7"/>
<text x="36.10" y="614.48" font-size="10.0" text-anchor="end" fill="#1e1e1e" textLength="20.93" lengthAdjust="spacingAndGlyphs">0.35</text>
<text x="186.40" y="602.60" font-size="10.0" text-anchor="middle" fill="#1e1e1e" textLength="174.50" lengthAdjust="spacingAndGlyphs">InceptionResNetV2 Loss over Epochs</text>
<text x="186.40" y="753.00" font-size="12.2" text-anchor="middle" fill="#1e1e1e" textLength="41.20" lengthAdjust="spacingAndGlyphs">Epochs</text>
<text x="0" y="0" fill="#1e1e1e" font-size="11.0" text-anchor="middle" transform="translate(12.00,668.70) rotate(-90)" textLength="23.03" lengthAdjust="spacingAndGlyphs">Loss</text>
<rect x="245.70" y="609.60" width="83.80" height="23.20" rx="1.5" fill="#fff" fill-opacity="0.8" stroke="#d0d0d0" stroke-width="0.8"/>
<line x1="248.00" y1="614.90" x2="265.00" y2="614.90" stroke="#4282b0" stroke-width="1.8"/>
<text x="270.60" y="617.70" font-size="8.4" text-anchor="start" fill="#1e1e1e" textLength="49.07" lengthAdjust="spacingAndGlyphs">Training Loss</text>
<line x1="248.00" y1="625.60" x2="265.00" y2="625.60" stroke="#ec8835" stroke-width="1.8"/>
<text x="270.60" y="628.20" font-size="8.4" text-anchor="start" fill="#1e1e1e" textLength="56.61" lengthAdjust="spacingAndGlyphs">Validation Loss</text>
<text x="178.60" y="779.00" font-size="20.5" text-anchor="middle" fill="#000" textLength="26.45" lengthAdjust="spacingAndGlyphs" stroke="none" style="stroke:none">(g)</text>
<polyline points="400.45,610.98 407.30,651.93 414.15,665.63 421.00,675.08 427.85,682.95 434.70,687.68 441.55,692.40 448.40,696.34 455.25,698.70 462.10,702.64 468.95,705.00 475.80,705.79 482.65,708.62 489.50,710.80 496.35,712.55 503.20,714.01 510.05,715.47 516.90,716.20 523.75,717.08 530.60,718.25 537.45,718.98 544.30,719.56 551.15,720.15 558.00,720.58 564.85,721.02 571.70,721.31 578.55,721.46 585.40,721.75 592.25,722.19 599.10,722.48 605.95,722.77 612.80,722.92 619.65,723.07 626.50,723.21 633.35,723.36 640.20,723.50 647.05,723.65 653.90,723.80 660.75,723.80 667.60,723.94" fill="none" stroke="#4282b0" stroke-width="1.7" stroke-linejoin="round" stroke-linecap="square"/>
<polyline points="400.45,640.91 407.30,659.33 414.15,662.01 421.00,675.08 427.85,679.80 434.70,683.43 441.55,684.53 448.40,687.20 455.25,688.78 462.10,691.93 468.95,692.40 475.80,694.45 482.65,695.55 489.50,696.20 496.35,695.47 503.20,697.66 510.05,696.93 516.90,696.06 523.75,695.47 530.60,690.80 537.45,700.58 544.30,700.58 551.15,699.85 558.00,701.02 564.85,701.02 571.70,701.31 578.55,698.10 585.40,700.58 592.25,700.15 599.10,702.48 605.95,701.31 612.80,698.10 619.65,700.58 626.50,700.29 633.35,701.31 640.20,700.29 647.05,700.58 653.90,700.58 660.75,699.85 667.60,701.31" fill="none" stroke="#ec8835" stroke-width="1.7" stroke-linejoin="round" stroke-linecap="square"/>
<rect x="386.60" y="605.50" width="294.00" height="124.00" fill="none" stroke="#868686" stroke-width="1"/>
<line x1="400.45" y1="729.50" x2="400.45" y2="731.10" stroke="#333" stroke-width="0.7"/>
<text x="400.45" y="739.75" font-size="10.0" text-anchor="middle" fill="#1e1e1e" textLength="5.98" lengthAdjust="spacingAndGlyphs">0</text>
<line x1="434.70" y1="729.50" x2="434.70" y2="731.10" stroke="#333" stroke-width="0.7"/>
<text x="434.70" y="739.75" font-size="10.0" text-anchor="middle" fill="#1e1e1e" textLength="5.98" lengthAdjust="spacingAndGlyphs">5</text>
<line x1="468.95" y1="729.50" x2="468.95" y2="731.10" stroke="#333" stroke-width="0.7"/>
<text x="468.95" y="739.75" font-size="10.0" text-anchor="middle" fill="#1e1e1e" textLength="11.96" lengthAdjust="spacingAndGlyphs">10</text>
<line x1="503.20" y1="729.50" x2="503.20" y2="731.10" stroke="#333" stroke-width="0.7"/>
<text x="503.20" y="739.75" font-size="10.0" text-anchor="middle" fill="#1e1e1e" textLength="11.96" lengthAdjust="spacingAndGlyphs">15</text>
<line x1="537.45" y1="729.50" x2="537.45" y2="731.10" stroke="#333" stroke-width="0.7"/>
<text x="537.45" y="739.75" font-size="10.0" text-anchor="middle" fill="#1e1e1e" textLength="11.96" lengthAdjust="spacingAndGlyphs">20</text>
<line x1="571.70" y1="729.50" x2="571.70" y2="731.10" stroke="#333" stroke-width="0.7"/>
<text x="571.70" y="739.75" font-size="10.0" text-anchor="middle" fill="#1e1e1e" textLength="11.96" lengthAdjust="spacingAndGlyphs">25</text>
<line x1="605.95" y1="729.50" x2="605.95" y2="731.10" stroke="#333" stroke-width="0.7"/>
<text x="605.95" y="739.75" font-size="10.0" text-anchor="middle" fill="#1e1e1e" textLength="11.96" lengthAdjust="spacingAndGlyphs">30</text>
<line x1="640.20" y1="729.50" x2="640.20" y2="731.10" stroke="#333" stroke-width="0.7"/>
<text x="640.20" y="739.75" font-size="10.0" text-anchor="middle" fill="#1e1e1e" textLength="11.96" lengthAdjust="spacingAndGlyphs">35</text>
<line x1="674.45" y1="729.50" x2="674.45" y2="731.10" stroke="#333" stroke-width="0.7"/>
<text x="674.45" y="739.75" font-size="10.0" text-anchor="middle" fill="#1e1e1e" textLength="11.96" lengthAdjust="spacingAndGlyphs">40</text>
<line x1="385.00" y1="724.30" x2="386.60" y2="724.30" stroke="#333" stroke-width="0.7"/>
<text x="383.30" y="728.28" font-size="10.0" text-anchor="end" fill="#1e1e1e" textLength="20.93" lengthAdjust="spacingAndGlyphs">0.00</text>
<line x1="385.00" y1="706.43" x2="386.60" y2="706.43" stroke="#333" stroke-width="0.7"/>
<text x="383.30" y="710.41" font-size="10.0" text-anchor="end" fill="#1e1e1e" textLength="20.93" lengthAdjust="spacingAndGlyphs">0.05</text>
<line x1="385.00" y1="688.57" x2="386.60" y2="688.57" stroke="#333" stroke-width="0.7"/>
<text x="383.30" y="692.55" font-size="10.0" text-anchor="end" fill="#1e1e1e" textLength="20.93" lengthAdjust="spacingAndGlyphs">0.10</text>
<line x1="385.00" y1="670.70" x2="386.60" y2="670.70" stroke="#333" stroke-width="0.7"/>
<text x="383.30" y="674.68" font-size="10.0" text-anchor="end" fill="#1e1e1e" textLength="20.93" lengthAdjust="spacingAndGlyphs">0.15</text>
<line x1="385.00" y1="652.83" x2="386.60" y2="652.83" stroke="#333" stroke-width="0.7"/>
<text x="383.30" y="656.81" font-size="10.0" text-anchor="end" fill="#1e1e1e" textLength="20.93" lengthAdjust="spacingAndGlyphs">0.20</text>
<line x1="385.00" y1="634.97" x2="386.60" y2="634.97" stroke="#333" stroke-width="0.7"/>
<text x="383.30" y="638.95" font-size="10.0" text-anchor="end" fill="#1e1e1e" textLength="20.93" lengthAdjust="spacingAndGlyphs">0.25</text>
<line x1="385.00" y1="617.10" x2="386.60" y2="617.10" stroke="#333" stroke-width="0.7"/>
<text x="383.30" y="621.08" font-size="10.0" text-anchor="end" fill="#1e1e1e" textLength="20.93" lengthAdjust="spacingAndGlyphs">0.30</text>
<text x="533.60" y="602.60" font-size="10.0" text-anchor="middle" fill="#1e1e1e" textLength="149.11" lengthAdjust="spacingAndGlyphs">DenseNet121 Loss over Epochs</text>
<text x="533.60" y="753.00" font-size="12.2" text-anchor="middle" fill="#1e1e1e" textLength="41.20" lengthAdjust="spacingAndGlyphs">Epochs</text>
<text x="0" y="0" fill="#1e1e1e" font-size="11.0" text-anchor="middle" transform="translate(359.50,668.60) rotate(-90)" textLength="23.03" lengthAdjust="spacingAndGlyphs">Loss</text>
<rect x="592.90" y="609.60" width="83.80" height="23.20" rx="1.5" fill="#fff" fill-opacity="0.8" stroke="#d0d0d0" stroke-width="0.8"/>
<line x1="595.20" y1="614.90" x2="612.20" y2="614.90" stroke="#4282b0" stroke-width="1.8"/>
<text x="617.80" y="617.70" font-size="8.4" text-anchor="start" fill="#1e1e1e" textLength="49.07" lengthAdjust="spacingAndGlyphs">Training Loss</text>
<line x1="595.20" y1="625.60" x2="612.20" y2="625.60" stroke="#ec8835" stroke-width="1.8"/>
<text x="617.80" y="628.20" font-size="8.4" text-anchor="start" fill="#1e1e1e" textLength="56.61" lengthAdjust="spacingAndGlyphs">Validation Loss</text>
<text x="530.20" y="780.30" font-size="20.5" text-anchor="middle" fill="#000" textLength="26.55" lengthAdjust="spacingAndGlyphs" stroke="none" style="stroke:none">(h)</text>
</svg>
</body></html>
